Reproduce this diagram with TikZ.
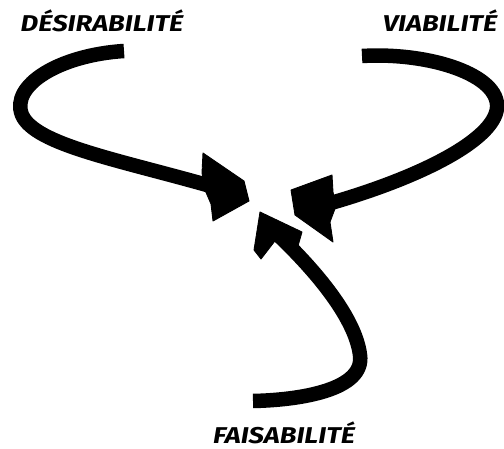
\documentclass[tikz,border=0pt]{standalone}
\usepackage{fontspec}
\setmainfont{Fira Sans}
\newfontfamily\critfont[FakeStretch=1.2]{Fira Sans}
\begin{document}
\begin{tikzpicture}[
  x=0.02cm, y=-0.02cm,
  critere/.style={font=\critfont\bfseries\itshape\fontsize{13}{15}\selectfont, inner sep=0pt},
  trait/.style={line width=0.29cm, line cap=butt},
  pointe/.style={fill=black, draw=black, line width=0.5pt, line join=round},
]
\useasboundingbox (0,0) rectangle (504,449);
% labels
\node[critere] (desir) at (102,21) {DÉSIRABILITÉ};
\node[critere] (viab) at (440,21) {VIABILITÉ};
\node[critere] (fais) at (284,433) {FAISABILITÉ};
% Désirabilité arrow
\coordinate (d0) at (124,51);
\coordinate (d1) at (214,187);
\draw[trait] (d0) .. controls (60,55) and (10,85) .. (22,115)
  .. controls (35,145) and (120,160) .. (d1);
\fill[pointe] (203,153) -- (244,181) -- (249,201) -- (213,221)
  -- (211,204) -- (205,190) -- (202,173) -- cycle;
% Viabilité arrow
\coordinate (v0) at (362,56);
\coordinate (v1) at (324,205);
\draw[trait] (v0) .. controls (430,52) and (500,75) .. (497,108)
  .. controls (494,140) and (420,178) .. (v1);
\fill[pointe] (332,175) -- (333,192) -- (336,206) -- (330,222)
  -- (333,242) -- (295,215) -- (291,190) -- cycle;
% Faisabilité arrow
\coordinate (f0) at (253,401);
\coordinate (f1) at (276,233);
\draw[trait] (f0) .. controls (300,400) and (365,390) .. (360,355)
  .. controls (355,315) and (310,265) .. (f1);
\fill[pointe] (260,212) -- (302,232) -- (298,246) -- (278,237)
  -- (261,259) -- (254,250) -- cycle;
\end{tikzpicture}
\end{document}
